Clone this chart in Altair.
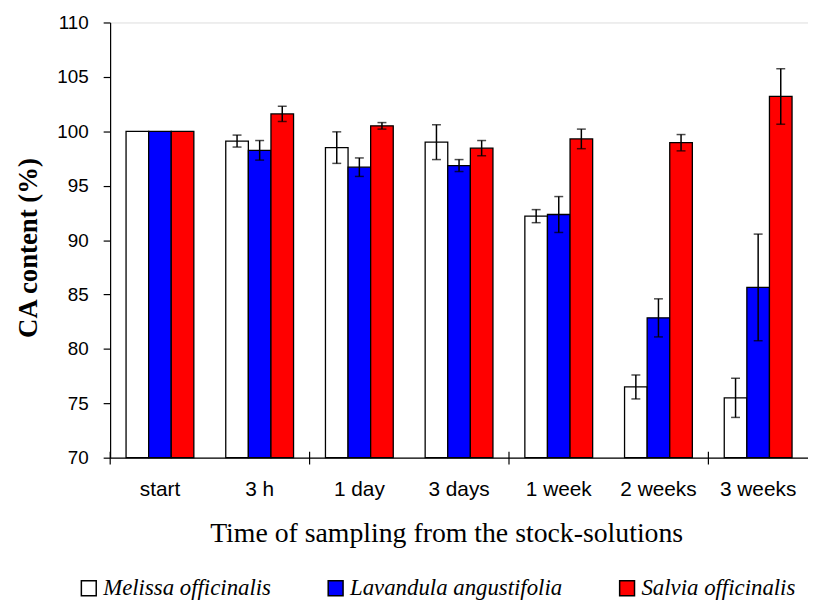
import altair as alt
import pandas as pd

categories = ["start", "3 h", "1 day", "3 days", "1 week", "2 weeks", "3 weeks"]
species = ["Melissa officinalis", "Lavandula angustifolia", "Salvia officinalis"]
melissa = [100, 99.1, 98.5, 99.0, 92.2, 76.5, 75.5]
melissa_err = [0, 0.55, 1.45, 1.6, 0.6, 1.1, 1.8]
lavandula = [100, 98.25, 96.7, 96.85, 92.35, 82.85, 85.65]
lavandula_err = [0, 0.9, 0.85, 0.55, 1.65, 1.75, 4.9]
salvia = [100, 101.6, 100.5, 98.45, 99.3, 98.95, 103.2]
salvia_err = [0, 0.7, 0.3, 0.7, 0.9, 0.75, 2.55]
tick_cats = ["start", "1 day", "1 week", "3 weeks"]

rows = []
for sp, vals, errs in [(species[0], melissa, melissa_err),
                       (species[1], lavandula, lavandula_err),
                       (species[2], salvia, salvia_err)]:
    for c, v, e in zip(categories, vals, errs):
        rows.append({"cat": c, "species": sp, "value": v, "lo": v - e, "hi": v + e, "err": e})
df = pd.DataFrame(rows)

xenc = alt.X("cat:N", sort=categories,
             scale=alt.Scale(paddingInner=0.32, paddingOuter=0.16),
             axis=alt.Axis(title="Time of sampling from the stock-solutions",
                           labelAngle=0, ticks=False, labelFont="Liberation Sans",
                           labelFontSize=21, labelColor="black", labelPadding=21,
                           titleFont="Liberation Serif", titleFontSize=28,
                           titleFontWeight="normal", titleColor="black", titlePadding=21,
                           titleX=339, titleAlign="center",
                           domainColor="black", domainWidth=1.2))
xoff = alt.XOffset("species:N", sort=species, scale=alt.Scale(domain=species, paddingInner=0, paddingOuter=0))
yscale = alt.Scale(domain=[70, 110], nice=False, zero=False)

bars = alt.Chart(df).mark_bar(stroke="black", strokeWidth=1.3).encode(
    x=xenc,
    xOffset=xoff,
    y=alt.Y("value:Q", scale=yscale,
            axis=alt.Axis(title="CA content (%)", values=list(range(70, 111, 5)),
                          grid=False, tickSize=7, tickColor="black", tickWidth=1.2,
                          domainColor="black", domainWidth=1.2,
                          labelFont="Liberation Sans", labelFontSize=19, labelColor="black",
                          labelPadding=15,
                          titleFont="Liberation Serif", titleFontSize=27,
                          titleFontWeight="bold", titleColor="black", titlePadding=15,
                          titleY=227)),
    y2=alt.datum(70),
    color=alt.Color("species:N", sort=species,
                    scale=alt.Scale(domain=species, range=["white", "#0000FF", "#FF0000"]),
                    legend=alt.Legend(title=None, orient="none", direction="horizontal",
                                      legendX=-33, legendY=559,
                                      symbolType="square",
                                      symbolSize=225, symbolStrokeColor="black",
                                      symbolStrokeWidth=1.5, symbolOpacity=1,
                                      labelFont="Liberation Serif", labelFontSize=23,
                                      labelFontStyle="italic", labelColor="black",
                                      labelOffset=3, columnPadding=53, labelLimit=400)),
)

errdf = df[df["err"] > 0]
rule = alt.Chart(errdf).mark_rule(color="black", strokeWidth=1.5).encode(
    x=alt.X("cat:N", sort=categories), xOffset=xoff,
    y=alt.Y("lo:Q", scale=yscale), y2="hi:Q")
cap_lo = alt.Chart(errdf).mark_tick(color="black", size=9, thickness=1.5).encode(
    x=alt.X("cat:N", sort=categories), xOffset=xoff, y=alt.Y("lo:Q", scale=yscale))
cap_hi = alt.Chart(errdf).mark_tick(color="black", size=9, thickness=1.5).encode(
    x=alt.X("cat:N", sort=categories), xOffset=xoff, y=alt.Y("hi:Q", scale=yscale))

tdf = pd.DataFrame({"cat": tick_cats})
xticks = alt.Chart(tdf).mark_rule(color="black", strokeWidth=1.2, xOffset=-16).encode(
    x=alt.X("cat:N", sort=categories, bandPosition=0),
    y=alt.value(433), y2=alt.value(446))

chart = alt.layer(bars, rule, cap_lo, cap_hi, xticks).properties(
    width=704, height=439,
    autosize=alt.AutoSizeParams(type="none"),
    padding={"left": 103, "top": 12, "right": 0, "bottom": 146},
).configure_view(stroke=None).configure(background="white")

chart.save("out.html", embed_options={"renderer": "svg", "actions": False})
